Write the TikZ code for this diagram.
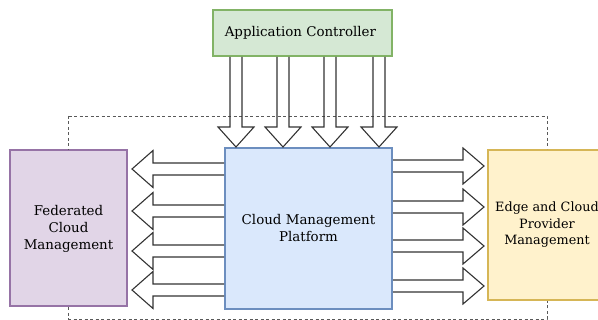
\documentclass[tikz,border=0pt]{standalone}
\usepackage{fontspec}
\setmainfont{DejaVu Serif}
\usetikzlibrary{calc,positioning}
\definecolor{acfill}{HTML}{D5E8D4}
\definecolor{acline}{HTML}{82B366}
\definecolor{cmpfill}{HTML}{DAE8FC}
\definecolor{cmpline}{HTML}{6C8EBF}
\definecolor{fcmfill}{HTML}{E1D5E7}
\definecolor{fcmline}{HTML}{9673A6}
\definecolor{ecpfill}{HTML}{FFF2CC}
\definecolor{ecpline}{HTML}{D6B656}
\tikzset{
	box/.style={draw, line width=2pt, align=center, inner sep=0pt,
		font=\fontsize{13.4}{17}\selectfont},
	blockarrow/.style={draw=black!80, line width=1.1pt, line join=miter},
	frame/.style={draw=black!65, line width=0.9pt, dash pattern=on 3pt off 2.5pt}
}

\begin{document}
\begin{tikzpicture}[x=1pt,y=1pt]
	\useasboundingbox (0,0) rectangle (598,320);
	% draw the boxes
	\node[box,
	fill=cmpfill, draw=cmpline,
	minimum width=167pt,
	minimum height=161pt] (cmp) at (308.5,91.5) {
	Cloud Management\\Platform
	};
	\node[box,
	fill=fcmfill, draw=fcmline,
	minimum width=117pt,
	minimum height=156pt,
	left=96pt of cmp] (fcm) {
	Federated\\Cloud\\Management
	};
	\node[box,
	fill=ecpfill, draw=ecpline,
	minimum width=118pt,
	minimum height=150pt,
	right=94pt of cmp,
	yshift=3.5pt,
	font=\fontsize{12.8}{16.5}\selectfont] (ecp) {
	Edge and Cloud\\Provider\\Management
	};
	\node[box,
	fill=acfill, draw=acline,
	minimum width=179pt,
	minimum height=46pt,
	above=90pt of cmp,
	xshift=-6pt] (ac) {
	Application Controller
	};
	% dashed frame between the side boxes
	\draw[frame] (fcm.north |- 0,204) -- (ecp.north |- 0,204) -- (ecp.north);
	\draw[frame] (fcm.north |- 0,204) -- (fcm.north);
	\draw[frame] (fcm.south) -- (fcm.south |- 0,1) -- (ecp.south |- 0,1) -- (ecp.south);
	% Arrows down
	\foreach \dx [count=\i] in {24,71,118,167}{
		\coordinate (d\i) at ($(ac.south west)+(\dx,0)$);
		\coordinate (dt\i) at (d\i |- cmp.north);
		\draw[blockarrow] ($(d\i)+(-6,0)$) -- ($(dt\i)+(-6,20)$) -- ($(dt\i)+(-18,20)$)
		-- (dt\i) -- ($(dt\i)+(18,20)$) -- ($(dt\i)+(6,20)$) -- ($(d\i)+(6,0)$);
	}
	% Arrows left
	\foreach \dy [count=\i] in {22,64,104,143}{
		\coordinate (l\i) at ($(cmp.north west)+(0,-\dy)$);
		\coordinate (lt\i) at ($(l\i -| fcm.east)+(4,0)$);
		\draw[blockarrow] ($(l\i)+(0,6)$) -- ($(lt\i)+(21,6)$) -- ($(lt\i)+(21,18.5)$)
		-- (lt\i) -- ($(lt\i)+(21,-18.5)$) -- ($(lt\i)+(21,-6)$) -- ($(l\i)+(0,-6)$);
	}
	% Arrows right
	\foreach \dy [count=\i] in {19,60,99,139}{
		\coordinate (r\i) at ($(cmp.north east)+(0,-\dy)$);
		\coordinate (rt\i) at ($(r\i -| ecp.west)+(-3,0)$);
		\draw[blockarrow] ($(r\i)+(0,6)$) -- ($(rt\i)+(-21,6)$) -- ($(rt\i)+(-21,18)$)
		-- (rt\i) -- ($(rt\i)+(-21,-18)$) -- ($(rt\i)+(-21,-6)$) -- ($(r\i)+(0,-6)$);
	}
\end{tikzpicture}
\end{document}
